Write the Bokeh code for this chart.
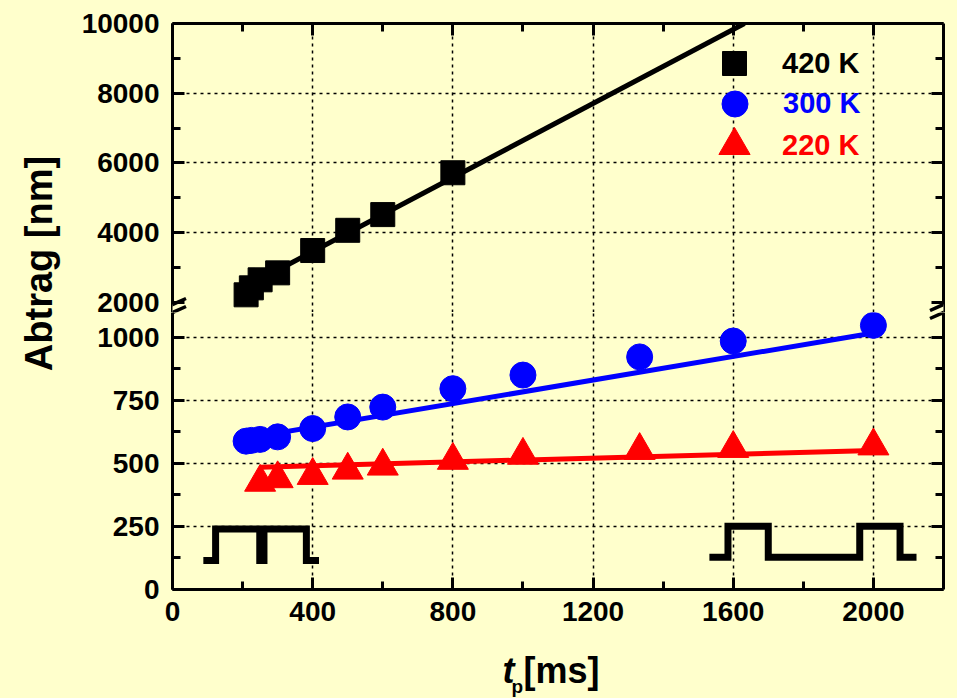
from bokeh.plotting import figure
from bokeh.models import (LinearAxis, FixedTicker, Range1d, Legend, LegendItem,
                          Label, PolyAnnotation, GlobalInlineStyleSheet)
from bokeh.layouts import column, row
from bokeh.core.properties import value
from bokeh.embed import file_html
from bokeh.resources import INLINE

BG = "#FFFFCC"
FONT = "Liberation Sans"

# ---------------- data ----------------
t_420 = [210, 225, 250, 300, 400, 500, 600, 800]
abtrag_420 = [2220, 2420, 2650, 2850, 3490, 4070, 4520, 5720]

t_300 = [210, 225, 250, 300, 400, 500, 600, 800, 1000, 1333, 1600, 2000]
abtrag_300 = [588, 591, 595, 605, 638, 684, 723, 796, 850, 922, 985, 1047]

t_220 = [250, 300, 400, 500, 600, 800, 1000, 1333, 1600, 2000]
abtrag_220 = [425, 439, 452, 473, 489, 512, 532, 551, 559, 569]

# linear fits (end points)
fit_t_420 = [210, 1632]
fit_y_420 = [2450, 10000]
fit_t_300 = [210, 2000]
fit_y_300 = [599, 1017]
fit_t_220 = [250, 2000]
fit_y_220 = [485, 551]

# pulse sketches
pulse_short_t = [88, 123, 123, 249, 249, 261, 261, 382, 382, 418]
pulse_short_y = [115, 115, 240, 240, 115, 115, 240, 240, 115, 115]
pulse_long_t = [1532, 1585, 1585, 1700, 1700, 1961, 1961, 2076, 2076, 2123]
pulse_long_y = [128, 128, 251, 251, 128, 128, 251, 251, 128, 128]

series_labels = ["420 K", "300 K", "220 K"]
series_colors = ["black", "blue", "red"]

x_ticks = [0, 400, 800, 1200, 1600, 2000]
x_minor = [200, 600, 1000, 1400, 1800]
x_grid = [400, 800, 1200, 1600, 2000]
y_ticks_upper = [2000, 4000, 6000, 8000, 10000]
y_minor_upper = [3000, 5000, 7000, 9000]
y_grid_upper = [4000, 6000, 8000]
y_ticks_lower = [0, 250, 500, 750, 1000]
y_minor_lower = [125, 375, 625, 875]
y_grid_lower = [250, 500, 750, 1000]

x_range = (0, 2200)
y_range_upper = (1713, 10000)
y_range_lower = (0, 1098)

# ---------------- layout constants ----------------
TOTAL_W = 957
TOTAL_H = 698
LABEL_W = 70
FIG_W = TOTAL_W - LABEL_W
BORDER_L = 102
FRAME_W = 771
BORDER_R = FIG_W - BORDER_L - FRAME_W
UP_TOP = 23
UP_H = 312
XT_H = 59
LOW_H = TOTAL_H - UP_H - XT_H
LOW_BOTTOM = 50
LOW_FRAME_H = LOW_H - LOW_BOTTOM
BREAK_UP = 4                      # axis break, px above the upper frame bottom


def make_fig(height, yr, top, bottom):
    p = figure(width=FIG_W, height=height, x_range=Range1d(*x_range),
               y_range=Range1d(*yr), output_backend="svg", toolbar_location=None,
               x_axis_location=None, y_axis_location=None, title=None,
               min_border_left=BORDER_L, min_border_right=BORDER_R,
               min_border_top=top, min_border_bottom=bottom)
    p.background_fill_color = BG
    p.border_fill_color = BG
    p.outline_line_color = None
    return p


def plain_fig(width, height):
    p = figure(width=width, height=height, output_backend="svg", toolbar_location=None,
               x_axis_location=None, y_axis_location=None, title=None,
               min_border=0, x_range=Range1d(0, 1), y_range=Range1d(0, 1))
    p.background_fill_color = BG
    p.border_fill_color = BG
    p.outline_line_color = None
    p.grid.visible = False
    return p


def style_axis(ax, labels=True):
    ax.axis_line_width = 3
    ax.axis_line_color = "black"
    ax.major_tick_line_width = 3
    ax.minor_tick_line_width = 3
    ax.major_tick_in = 12
    ax.major_tick_out = 0
    ax.minor_tick_in = 8
    ax.minor_tick_out = 0
    ax.major_label_text_font = FONT
    ax.major_label_text_font_style = "bold"
    ax.major_label_text_font_size = "28px"
    if labels:
        ax.major_label_text_color = "black"
    else:
        ax.major_label_text_color = None
        ax.major_label_standoff = 0
    return ax


def style_grid(p, xt, yt):
    p.xgrid.ticker = FixedTicker(ticks=xt)
    p.ygrid.ticker = FixedTicker(ticks=yt)
    for g in (p.xgrid, p.ygrid):
        g.grid_line_color = "black"
        g.grid_line_width = 1.5
        g.grid_line_dash = "3 4"


def add_break(p, cy0):
    k = 12.0 / 27.0
    for cx in (0, FRAME_W):
        gap = PolyAnnotation(xs=[cx - 5, cx + 5, cx + 5, cx - 5],
                             ys=[cy0 - 4 - 5 * k, cy0 - 4 + 5 * k, cy0 + 4 + 5 * k, cy0 + 4 - 5 * k],
                             xs_units="screen", ys_units="screen",
                             fill_color=BG, fill_alpha=1.0, line_color=None)
        p.add_layout(gap, "left")
        for off in (-4, 4):
            sl = PolyAnnotation(xs=[cx - 13.5, cx + 13.5],
                                ys=[cy0 + off - 6, cy0 + off + 6],
                                xs_units="screen", ys_units="screen",
                                fill_alpha=0, line_color="black", line_alpha=1.0,
                                line_width=3.5)
            p.add_layout(sl, "left")


# ---------------- upper panel (420 K; other series fall below its range) ----------------
up = make_fig(UP_H, y_range_upper, UP_TOP, 0)
style_grid(up, x_grid, y_grid_upper)
up.line(fit_t_420, fit_y_420, line_color="black", line_width=5)
r420 = up.scatter(t_420, abtrag_420, marker="square", size=24, color="black")
r300u = up.scatter(t_300, abtrag_300, marker="circle", size=26, color="blue")
r220u = up.scatter(t_220, abtrag_220, marker="triangle", size=31, color="red")

ax = style_axis(LinearAxis(ticker=FixedTicker(ticks=y_ticks_upper, minor_ticks=y_minor_upper)))
ax.major_label_standoff = 13
up.add_layout(ax, "left")
up.add_layout(style_axis(LinearAxis(ticker=FixedTicker(ticks=y_ticks_upper, minor_ticks=y_minor_upper)), False), "right")
up.add_layout(style_axis(LinearAxis(ticker=FixedTicker(ticks=x_ticks, minor_ticks=x_minor)), False), "above")

# ---------------- lower panel (300 K, 220 K) ----------------
low = make_fig(LOW_H, y_range_lower, 0, LOW_BOTTOM)
style_grid(low, x_grid, y_grid_lower)
low.line(pulse_short_t, pulse_short_y, line_color="black", line_width=7, line_join="miter")
low.line(pulse_long_t, pulse_long_y, line_color="black", line_width=7, line_join="miter")
low.line(fit_t_300, fit_y_300, line_color="blue", line_width=5)
low.line(fit_t_220, fit_y_220, line_color="red", line_width=5)
low.scatter(t_300, abtrag_300, marker="circle", size=26, color="blue")
low.scatter(t_220, abtrag_220, marker="triangle", size=31, color="red")

ax = style_axis(LinearAxis(ticker=FixedTicker(ticks=y_ticks_lower, minor_ticks=y_minor_lower)))
ax.major_label_standoff = 13
low.add_layout(ax, "left")
low.add_layout(style_axis(LinearAxis(ticker=FixedTicker(ticks=y_ticks_lower, minor_ticks=y_minor_lower)), False), "right")
ax = style_axis(LinearAxis(ticker=FixedTicker(ticks=x_ticks, minor_ticks=x_minor)))
ax.major_label_standoff = 12
low.add_layout(ax, "below")

# axis break marks (each panel draws the part that falls on its canvas)
add_break(up, BREAK_UP)
add_break(low, LOW_FRAME_H + BREAK_UP)

# legends: one per series so each label keeps its own colour
# (glyph box, x, y of box bottom-left in frame px, label standoff)
leg_specs = [(60, 532, 219, 18), (65, 530, 176, 16), (78, 523, 128, 9)]
for (g, lx, ly, so), r, name, col in zip(leg_specs, [r420, r300u, r220u], series_labels, series_colors):
    lg = Legend(items=[LegendItem(label=value(name), renderers=[r])], location=(lx, ly),
                glyph_width=g, glyph_height=g, label_standoff=so, padding=0, margin=0,
                spacing=0, border_line_color=None, background_fill_alpha=0,
                label_text_font=FONT, label_text_font_style="bold",
                label_text_font_size="29px", label_text_color=col)
    up.add_layout(lg)

# ---------------- x axis title strip: t_p [ms] ----------------
xt = plain_fig(FIG_W, XT_H)
for txt, x, y, size, style in (("t", 330, 28, "36px", "bold italic"),
                               ("p", 339, 12, "19px", "bold"),
                               ("[ms]", 351, 28, "36px", "bold")):
    xt.add_layout(Label(x=x, y=y, x_units="screen", y_units="screen", text=txt,
                        text_font=FONT, text_font_size=size, text_font_style=style,
                        text_color="black", text_align="left", text_baseline="middle"))

# ---------------- y axis title strip ----------------
ylab = plain_fig(LABEL_W, TOTAL_H)
ylab.add_layout(Label(x=38, y=TOTAL_H - 263, x_units="screen", y_units="screen",
                      text="Abtrag [nm]", angle=90, angle_units="deg",
                      text_font=FONT, text_font_size="38px", text_font_style="bold",
                      text_color="black", text_align="center", text_baseline="middle"))

page_css = GlobalInlineStyleSheet(css="html, body { background-color: #FFFFCC; }")
layout = row(ylab, column(up, low, xt, spacing=0, styles={"background-color": BG}),
             spacing=0, styles={"background-color": BG}, stylesheets=[page_css])
open("out.html", "w").write(file_html(layout, INLINE))
